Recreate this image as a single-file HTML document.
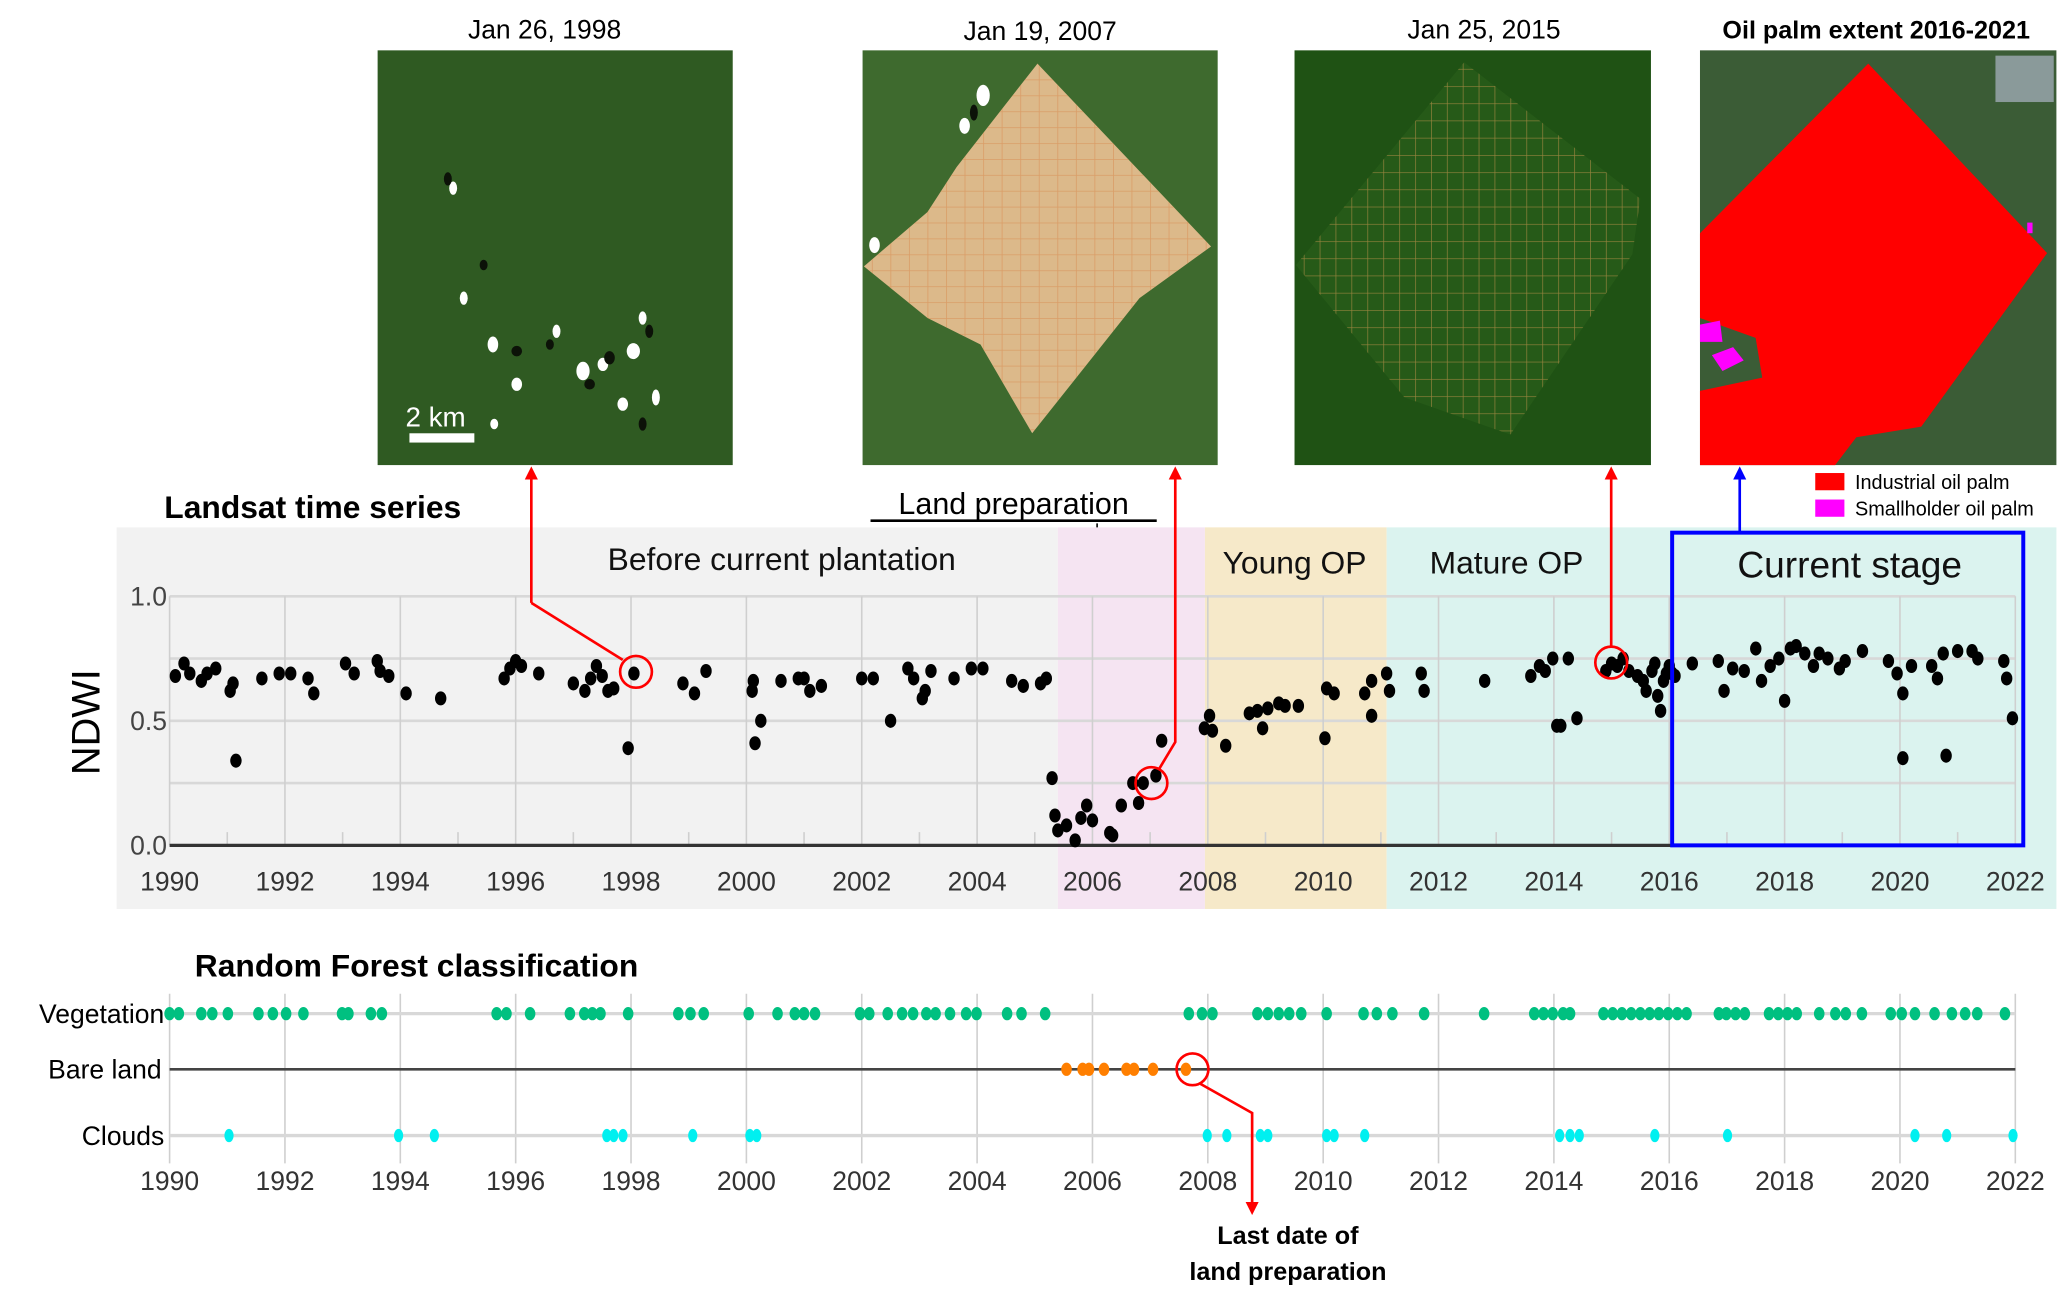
<!DOCTYPE html>
<html><head><meta charset="utf-8"><style>
html,body{margin:0;padding:0;background:#fff;}
svg{display:block;}
text{font-family:"Liberation Sans",sans-serif;}
</style></head><body>
<svg id="fig" width="2067" height="1298" viewBox="0 0 1560 979.6" preserveAspectRatio="none" xmlns="http://www.w3.org/2000/svg">
<defs>
<marker id="ar" viewBox="0 0 10 10" refX="5" refY="5" markerWidth="5" markerHeight="6" orient="auto-start-reverse"><path d="M0,0 L10,5 L0,10 z" fill="red"/></marker>
<marker id="ab" viewBox="0 0 10 10" refX="5" refY="5" markerWidth="5" markerHeight="6" orient="auto-start-reverse"><path d="M0,0 L10,5 L0,10 z" fill="blue"/></marker>
<marker id="ak" viewBox="0 0 10 10" refX="5" refY="5" markerWidth="5" markerHeight="6" orient="auto-start-reverse"><path d="M0,0 L10,5 L0,10 z" fill="#000"/></marker>
<pattern id="grid2" width="14" height="12" patternUnits="userSpaceOnUse"><path d="M0,0 H14 M0,0 V12" stroke="#d98a50" stroke-width="1.2" opacity="0.6" fill="none"/></pattern>
<pattern id="grid3" width="12" height="13" patternUnits="userSpaceOnUse"><path d="M0,0 H12 M0,0 V13" stroke="#c8964e" stroke-width="1" opacity="0.7" fill="none"/></pattern>
</defs>

<g>
<text x="411" y="29" font-size="20" text-anchor="middle">Jan 26, 1998</text>
<rect x="285" y="38" width="268" height="313" fill="#2f5a22"/>
<g fill="#fff"><ellipse cx="342" cy="142" rx="3" ry="5"/><ellipse cx="350" cy="225" rx="3" ry="5"/><ellipse cx="372" cy="260" rx="4" ry="6"/><ellipse cx="420" cy="250" rx="3" ry="5"/><ellipse cx="440" cy="280" rx="5" ry="7"/><ellipse cx="455" cy="275" rx="4" ry="5"/><ellipse cx="478" cy="265" rx="5" ry="6"/><ellipse cx="470" cy="305" rx="4" ry="5"/><ellipse cx="390" cy="290" rx="4" ry="5"/><ellipse cx="373" cy="320" rx="3" ry="4"/><ellipse cx="485" cy="240" rx="3" ry="5"/><ellipse cx="495" cy="300" rx="3" ry="6"/></g>
<g fill="#0c1208"><ellipse cx="338" cy="135" rx="3" ry="5"/><ellipse cx="390" cy="265" rx="4" ry="4"/><ellipse cx="460" cy="270" rx="4" ry="5"/><ellipse cx="490" cy="250" rx="3" ry="5"/><ellipse cx="415" cy="260" rx="3" ry="4"/><ellipse cx="445" cy="290" rx="4" ry="4"/><ellipse cx="365" cy="200" rx="3" ry="4"/><ellipse cx="485" cy="320" rx="3" ry="5"/></g>
<text x="306" y="322" font-size="21" fill="#fff">2 km</text>
<rect x="309" y="327" width="49" height="7" fill="#fff"/>
</g>
<g>
<text x="785" y="30" font-size="20" text-anchor="middle">Jan 19, 2007</text>
<rect x="651" y="38" width="268" height="313" fill="#3e6a2e"/>
<polygon points="783,48 914,186 860,225 779,327 740,260 700,240 652,201 700,160 722,126" fill="#dcb98a"/>
<polygon points="783,48 914,186 860,225 779,327 740,260 700,240 652,201 700,160 722,126" fill="url(#grid2)"/>
<g fill="#fff"><ellipse cx="742" cy="72" rx="5" ry="8"/><ellipse cx="728" cy="95" rx="4" ry="6"/><ellipse cx="660" cy="185" rx="4" ry="6"/></g>
<g fill="#0c1208"><ellipse cx="735" cy="85" rx="3" ry="6"/></g>
</g>
<g>
<text x="1120" y="29" font-size="20" text-anchor="middle">Jan 25, 2015</text>
<rect x="977" y="38" width="269" height="313" fill="#1f5214"/>
<polygon points="1105,47 1238,150 1232,192 1140,328 1060,300 978,200" fill="#265a18"/>
<polygon points="1105,47 1238,150 1232,192 1140,328 1060,300 978,200" fill="url(#grid3)"/>
</g>
<g>
<text x="1416" y="29" font-size="19" font-weight="bold" text-anchor="middle">Oil palm extent 2016-2021</text>
<rect x="1283" y="38" width="269" height="313" fill="#3b5c36"/>
<rect x="1506" y="42" width="44" height="35" fill="#8a9a9a"/>
<polygon points="1410,48 1545,191 1508,242 1450,322 1401,330 1385,351 1283,351 1283,295 1330,285 1325,255 1283,240 1283,176" fill="#ff0000"/>
<polygon points="1283,245 1298,242 1300,258 1283,258" fill="#ff00ff"/>
<polygon points="1292,268 1308,262 1316,272 1300,280" fill="#ff00ff"/>
<rect x="1530" y="168" width="4" height="8" fill="#ff00ff"/>
</g>
<g>
<rect x="1370" y="357" width="22" height="13" fill="#ff0000"/>
<text x="1400" y="369" font-size="15">Industrial oil palm</text>
<rect x="1370" y="377" width="22" height="13" fill="#ff00ff"/>
<text x="1400" y="389" font-size="15">Smallholder oil palm</text>
</g>

<g id="top">
<text x="124" y="391" font-size="24" font-weight="bold">Landsat time series</text>
<text x="765" y="388" font-size="23" text-anchor="middle">Land preparation</text>
<line x1="657" y1="393" x2="873" y2="393" stroke="#000" stroke-width="2"/>
<line x1="828" y1="395" x2="828" y2="422" stroke="#000" stroke-width="1.2" marker-end="url(#ak)"/>
<g id="bands"></g>
<g id="grid"></g>
<g id="pts"></g>
<text transform="translate(75,545) rotate(-90)" font-size="30" text-anchor="middle">NDWI</text>
<text x="590" y="430" font-size="24" text-anchor="middle" fill="#111">Before current plantation</text>
<text x="977" y="433" font-size="24" text-anchor="middle" fill="#111">Young OP</text>
<text x="1137" y="433" font-size="24" text-anchor="middle" fill="#111">Mature OP</text>
<text x="1396" y="436" font-size="28" text-anchor="middle" fill="#111">Current stage</text>
<rect x="1262" y="402" width="265" height="236" fill="none" stroke="#0000ff" stroke-width="3"/>
</g>

<g>
<polyline points="401,455 401,357" fill="none" stroke="red" stroke-width="2" marker-end="url(#ar)"/>
<polyline points="470,498 401,455" fill="none" stroke="red" stroke-width="2"/>
<circle cx="480" cy="507" r="12" fill="none" stroke="red" stroke-width="2"/>
<polyline points="875,580 887,560 887,357" fill="none" stroke="red" stroke-width="2" marker-end="url(#ar)"/>
<circle cx="869" cy="591" r="12" fill="none" stroke="red" stroke-width="2"/>
<line x1="1216" y1="488" x2="1216" y2="357" stroke="red" stroke-width="2" marker-end="url(#ar)"/>
<circle cx="1216" cy="500" r="12" fill="none" stroke="red" stroke-width="2"/>
<line x1="1313" y1="401" x2="1313" y2="357" stroke="blue" stroke-width="2" marker-end="url(#ab)"/>
</g>

<g id="bot">
<text x="147" y="737" font-size="24" font-weight="bold">Random Forest classification</text>
<text x="124" y="772" font-size="20" text-anchor="end">Vegetation</text>
<text x="122" y="814" font-size="20" text-anchor="end">Bare land</text>
<text x="124" y="864" font-size="20" text-anchor="end">Clouds</text>
<g id="bgrid"></g>
<g id="bpts"></g>
<circle cx="900" cy="807" r="12" fill="none" stroke="red" stroke-width="2"/>
<polyline points="906,818 945,840 945,912" fill="none" stroke="red" stroke-width="2" marker-end="url(#ar)"/>
<text x="972" y="939" font-size="19" font-weight="bold" text-anchor="middle">Last date of</text>
<text x="972" y="966" font-size="19" font-weight="bold" text-anchor="middle">land preparation</text>
</g>
</svg>
<script>
const years=[1990,1992,1994,1996,1998,2000,2002,2004,2006,2008,2010,2012,2014,2016,2018,2020,2022];
const yTicks=[0,0.5,1];
const yTickLabels=["0.0","0.5","1.0"];
const stageNames=["before","land-prep","young-op","mature-op"];
const stageStarts=[1988.97,2005.4,2007.95,2011.1];
const stageEnds=[2005.4,2007.95,2011.1,2022.6];
const stageColors=["#f2f2f2","#f5e4f2","#f6e9c9","#dbf3ef"];
const ndwiYears=[1990.1,1990.25,1990.35,1990.55,1990.65,1990.8,1991.05,1991.1,1991.15,1991.6,1991.9,1992.1,1992.4,1992.5,1993.05,1993.2,1993.6,1993.65,1993.8,1994.1,1994.7,1995.8,1995.9,1996.0,1996.1,1996.4,1997.0,1997.2,1997.3,1997.4,1997.5,1997.6,1997.7,1997.95,1998.05,1998.9,1999.1,1999.3,2000.1,2000.12,2000.15,2000.25,2000.6,2000.9,2001.0,2001.1,2001.3,2002.0,2002.2,2002.5,2002.8,2002.9,2003.05,2003.1,2003.2,2003.6,2003.9,2004.1,2004.6,2004.8,2005.1,2005.2,
2005.3,2005.35,2005.4,2005.55,2005.7,2005.8,2005.9,2006.0,2006.3,2006.35,2006.5,2006.7,2006.8,2006.88,2007.1,2007.2,
2007.94,2008.03,2008.08,2008.31,2008.72,2008.86,2008.95,2009.04,2009.23,2009.34,2009.57,2010.03,2010.06,2010.19,2010.72,2010.84,2010.84,
2011.1,2011.15,2011.7,2011.75,2012.8,2013.6,2013.75,2013.85,2013.98,2014.05,2014.12,2014.25,2014.4,2014.9,2015.0,2015.1,2015.2,2015.3,2015.45,2015.55,2015.6,2015.7,2015.75,2015.8,2015.85,2015.9,2015.95,2016.0,2016.1,
2016.05,2016.4,2016.85,2016.95,2017.1,2017.3,2017.5,2017.6,2017.75,2017.9,2018.0,2018.1,2018.2,2018.35,2018.5,2018.6,2018.75,2018.95,2019.05,2019.35,2019.8,2019.95,2020.05,2020.05,2020.2,2020.55,2020.65,2020.75,2020.8,2021.0,2021.25,2021.35,2021.8,2021.85,2021.95];
const ndwiValues=[0.68,0.73,0.69,0.66,0.69,0.71,0.62,0.65,0.34,0.67,0.69,0.69,0.67,0.61,0.73,0.69,0.74,0.70,0.68,0.61,0.59,0.67,0.71,0.74,0.72,0.69,0.65,0.62,0.67,0.72,0.68,0.62,0.63,0.39,0.69,0.65,0.61,0.70,0.62,0.66,0.41,0.50,0.66,0.67,0.67,0.62,0.64,0.67,0.67,0.50,0.71,0.67,0.59,0.62,0.70,0.67,0.71,0.71,0.66,0.64,0.65,0.67,
0.27,0.12,0.06,0.08,0.02,0.11,0.16,0.10,0.05,0.04,0.16,0.25,0.17,0.25,0.28,0.42,
0.47,0.52,0.46,0.40,0.53,0.54,0.47,0.55,0.57,0.56,0.56,0.43,0.63,0.61,0.61,0.52,0.66,
0.69,0.62,0.69,0.62,0.66,0.68,0.72,0.70,0.75,0.48,0.48,0.75,0.51,0.70,0.73,0.72,0.75,0.70,0.68,0.66,0.62,0.70,0.73,0.60,0.54,0.66,0.69,0.72,0.68,
0.69,0.73,0.74,0.62,0.71,0.70,0.79,0.66,0.72,0.75,0.58,0.79,0.80,0.77,0.72,0.77,0.75,0.71,0.74,0.78,0.74,0.69,0.61,0.35,0.72,0.72,0.67,0.77,0.36,0.78,0.78,0.75,0.74,0.67,0.51];
const vegYears=[1990.0,1990.16,1990.55,1990.74,1991.01,1991.54,1991.79,1992.02,1992.32,1992.99,1993.1,1993.49,1993.68,1995.67,1995.84,1996.25,1996.94,1997.19,1997.33,1997.47,1997.95,1998.82,1999.03,1999.26,2000.04,2000.54,2000.84,2001.0,2001.19,2001.97,2002.13,2002.45,2002.7,2002.89,2003.12,2003.28,2003.53,2003.81,2003.99,2004.52,2004.77,2005.18,2007.67,2007.9,2008.08,2008.86,2009.04,2009.23,2009.41,2009.62,2010.06,2010.7,2010.93,2011.2,2011.75,2012.79,2013.66,2013.82,2013.98,2014.16,2014.28,2014.86,2015.02,2015.18,2015.34,2015.5,2015.66,2015.82,2015.98,2016.14,2016.3,2016.86,2016.99,2017.15,2017.31,2017.73,2017.89,2018.05,2018.21,2018.6,2018.88,2019.06,2019.34,2019.84,2020.03,2020.26,2020.6,2020.9,2021.13,2021.34,2021.82];
const bareYears=[2005.55,2005.83,2005.94,2006.2,2006.59,2006.72,2007.05,2007.62];
const cloudYears=[1991.03,1993.97,1994.59,1997.58,1997.7,1997.86,1999.07,2000.06,2000.18,2007.99,2008.33,2008.91,2009.04,2010.06,2010.19,2010.72,2014.1,2014.28,2014.44,2015.75,2017.01,2020.26,2020.81,2021.96];

const NS="http://www.w3.org/2000/svg";
const X0=128,X1=1521;
function xs(y){return X0+(y-1990)/32*(X1-X0);}
function ys(v){return 638-v*(638-450);}
function mk(tag,attrs,parent){const e=document.createElementNS(NS,tag);for(const k in attrs)e.setAttribute(k,attrs[k]);parent.appendChild(e);return e;}
const bands=document.getElementById('bands'),grid=document.getElementById('grid'),pts=document.getElementById('pts');
stageNames.forEach((n,i)=>{
  const x1=i==0?88:xs(stageStarts[i]);const x2=i==3?1552:xs(stageEnds[i]);
  const r=mk('rect',{x:x1,y:398,width:x2-x1,height:288,fill:stageColors[i]},bands);
  
  
});
[0.25,0.5,0.75,1].forEach(v=>mk('line',{x1:X0,x2:X1,y1:ys(v),y2:ys(v),stroke:'#d8d8d8','stroke-width':2},grid));
years.forEach(y=>{
  mk('line',{x1:xs(y),x2:xs(y),y1:450,y2:638,stroke:'#cfcfcf','stroke-width':1.2},grid);
  const t=mk('text',{x:xs(y),y:672,'font-size':20,'text-anchor':'middle',fill:'#333'},grid);t.textContent=y;
  
  
  if(y<2022)mk('line',{x1:xs(y+1),x2:xs(y+1),y1:628,y2:638,stroke:'#cfcfcf','stroke-width':1.2},grid);
});
mk('line',{x1:X0,x2:X1,y1:638,y2:638,stroke:'#333','stroke-width':2.5},grid);
yTicks.forEach((v,i)=>{const t=mk('text',{x:126,y:ys(v)+7,'font-size':20,'text-anchor':'end',fill:'#444'},grid);t.textContent=yTickLabels[i];
  
  });
ndwiYears.forEach((y,i)=>{const c=mk('ellipse',{cx:xs(y),cy:ys(ndwiValues[i]),rx:4.3,ry:5.3,fill:'#000'},pts);
  
  });
const bg=document.getElementById('bgrid'),bp=document.getElementById('bpts');
const rowY={veg:765,bare:807,cloud:857};
years.forEach(y=>{mk('line',{x1:xs(y),x2:xs(y),y1:750,y2:878,stroke:'#cfcfcf','stroke-width':1.2},bg);
  const t=mk('text',{x:xs(y),y:898,'font-size':20,'text-anchor':'middle',fill:'#333'},bg);t.textContent=y;
  
  });
mk('line',{x1:X0,x2:X1,y1:rowY.veg,y2:rowY.veg,stroke:'#d8d8d8','stroke-width':2.5},bg);
mk('line',{x1:X0,x2:X1,y1:rowY.bare,y2:rowY.bare,stroke:'#444','stroke-width':2},bg);
mk('line',{x1:X0,x2:X1,y1:rowY.cloud,y2:rowY.cloud,stroke:'#d8d8d8','stroke-width':2.5},bg);
vegYears.forEach(y=>{const c=mk('ellipse',{cx:xs(y),cy:rowY.veg,rx:4,ry:5,fill:'#00c080'},bp);
  
  });
bareYears.forEach(y=>{const c=mk('ellipse',{cx:xs(y),cy:rowY.bare,rx:4,ry:5,fill:'#ff7f00'},bp);
  
  });
cloudYears.forEach(y=>{const c=mk('ellipse',{cx:xs(y),cy:rowY.cloud,rx:3.5,ry:5,fill:'#00f0f0'},bp);
  
  });
</script>
</body></html>
